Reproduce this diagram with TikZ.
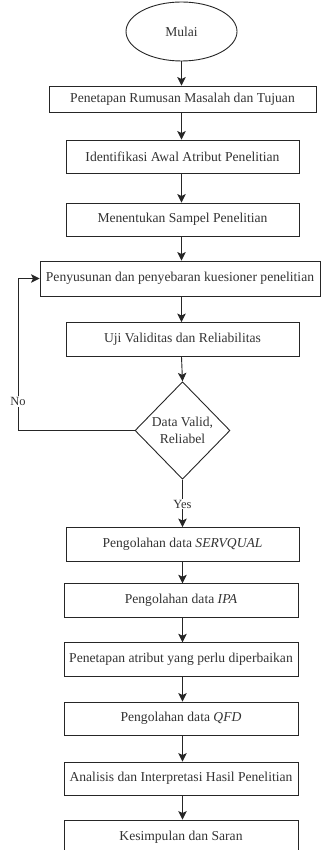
\documentclass[tikz,border=0pt]{standalone}
\usepackage{fontspec}
\setmainfont{Liberation Serif}
\usetikzlibrary{shapes.geometric,arrows.meta}
\tikzset{
  base/.style={draw=black!85, line width=0.9pt, text=black!80, inner sep=0pt,
    font=\fontsize{13.6}{16.5}\selectfont, align=center},
  proc/.style={base, rectangle},
  term/.style={base, ellipse},
  dec/.style={base, diamond},
  conn/.style={draw=black!85, line width=0.9pt, -{Stealth[length=8.5pt,width=8.5pt,inset=2pt]}},
  lbl/.style={fill=white, text=black!80, inner sep=1pt, font=\fontsize{12.5}{14}\selectfont}
}
\begin{document}
\begin{tikzpicture}[x=1pt,y=-1pt]
\useasboundingbox (0,0) rectangle (321,850);
\node[term, minimum width=111pt, minimum height=59pt] (s) at (181.5,31.5) {Mulai};
\node[proc, minimum width=267pt, minimum height=26pt] (b1) at (182.5,99) {Penetapan Rumusan Masalah dan Tujuan};
\node[proc, minimum width=233pt, minimum height=33pt] (b2) at (182.5,156.5) {Identifikasi Awal Atribut Penelitian};
\node[proc, minimum width=233pt, minimum height=33pt] (b3) at (182.5,219.5) {Menentukan Sampel Penelitian};
\node[proc, minimum width=280pt, minimum height=35pt] (b4) at (180,278.5) {Penyusunan dan penyebaran kuesioner penelitian};
\node[proc, minimum width=233pt, minimum height=34pt] (b5) at (182.5,339.5) {Uji Validitas dan Reliabilitas};
\node[dec, minimum width=95pt, minimum height=97.5pt] (d) at (182.5,430.5) {Data Valid,\\Reliabel};
\node[proc, minimum width=233pt, minimum height=34pt] (b6) at (182.5,544.5) {Pengolahan data \textit{SERVQUAL}};
\node[proc, minimum width=234pt, minimum height=33.5pt] (b7) at (181,600.5) {Pengolahan data \textit{IPA}};
\node[proc, minimum width=234pt, minimum height=33.5pt] (b8) at (181,659.5) {Penetapan atribut yang perlu diperbaikan};
\node[proc, minimum width=234pt, minimum height=33pt] (b9) at (181,718.5) {Pengolahan data \textit{QFD}};
\node[proc, minimum width=234pt, minimum height=33pt] (b10) at (181,778.5) {Analisis dan Interpretasi Hasil Penelitian};
\node[proc, minimum width=234pt, minimum height=34pt] (b11) at (181,837) {Kesimpulan dan Saran};
\coordinate (lb) at (18,430.5);
\coordinate (lt) at (18,278.5);
\draw[conn] (s.south) -- (s.south |- b1.north);
\draw[conn] (s.south |- b1.south) -- (s.south |- b2.north);
\draw[conn] (s.south |- b2.south) -- (s.south |- b3.north);
\draw[conn] (s.south |- b3.south) -- (s.south |- b4.north);
\draw[conn] (s.south |- b4.south) -- (s.south |- b5.north);
\draw[conn] (s.south |- b5.south) -- (d.north);
\draw[conn] (d.south) -- node[lbl, pos=0.52] (yes) {Yes} (d.south |- b6.north);
\draw[conn] (d.south |- b6.south) -- (d.south |- b7.north);
\draw[conn] (d.south |- b7.south) -- (d.south |- b8.north);
\draw[conn] (d.south |- b8.south) -- (d.south |- b9.north);
\draw[conn] (d.south |- b9.south) -- (d.south |- b10.north);
\draw[conn] (d.south |- b10.south) -- (d.south |- b11.north);
\draw[conn] (d.west) -- (lb) -- node[lbl, pos=0.19] (no) {No} (lt) -- (b4.west);
\end{tikzpicture}
\end{document}
